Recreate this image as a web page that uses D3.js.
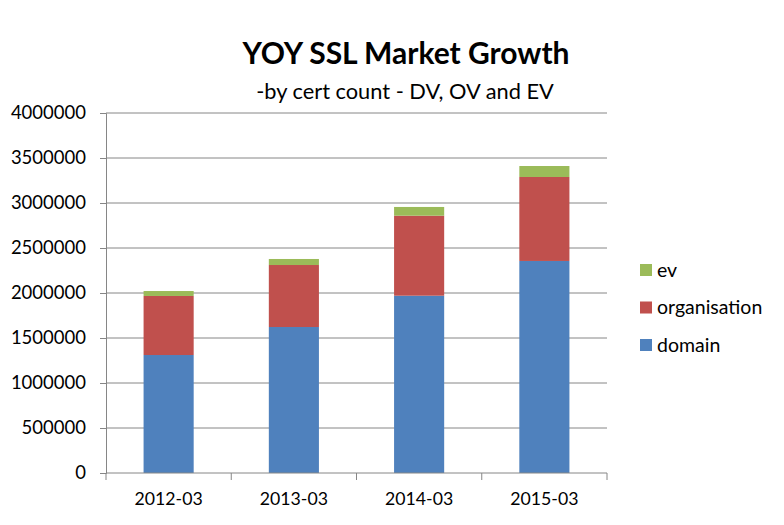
<!DOCTYPE html>
<html>
<head>
<meta charset="utf-8">
<script src="https://cdn.jsdelivr.net/npm/d3@7"></script>
<style>
  body { margin: 0; background: #fff; }
  text { font-family: Lato, "Open Sans", sans-serif; fill: #000; }
</style>
</head>
<body>
<div id="chart"></div>
<script>
var categories = ["2012-03", "2013-03", "2014-03", "2015-03"];
var domainVals = [1311000, 1622000, 1970000, 2356000];
var organisationVals = [656000, 689000, 889000, 933000];
var evVals = [55000, 67000, 97000, 122000];
var seriesNames = ["domain", "organisation", "ev"];
var seriesColors = ["#4F81BD", "#C0504D", "#9BBB59"];
var yTicks = [0, 500000, 1000000, 1500000, 2000000, 2500000, 3000000, 3500000, 4000000];

var width = 784, height = 525;
var margin = {top: 113, left: 106, right: 177, bottom: 52};

var svg = d3.select("#chart").append("svg")
    .attr("width", width)
    .attr("height", height);

var rows = categories.map(function (c, i) {
    return {cat: c, domain: domainVals[i], organisation: organisationVals[i], ev: evVals[i]};
});
var stacked = d3.stack().keys(seriesNames)(rows);

var x = d3.scaleBand()
    .domain(categories)
    .range([margin.left, width - margin.right])
    .paddingInner(0.6)
    .paddingOuter(0.3);

var y = d3.scaleLinear()
    .domain([0, 4000000])
    .range([height - margin.bottom, margin.top]);

// gridlines
svg.append("g")
    .selectAll("line")
    .data(yTicks.slice(1))
    .enter().append("line")
    .attr("x1", margin.left)
    .attr("x2", width - margin.right)
    .attr("y1", function (d) { return y(d); })
    .attr("y2", function (d) { return y(d); })
    .attr("stroke", "#868686")
    .attr("stroke-width", 1);

// bars
svg.append("g")
    .selectAll("g")
    .data(stacked)
    .enter().append("g")
    .attr("fill", function (d, i) { return seriesColors[i]; })
    .selectAll("rect")
    .data(function (d) { return d; })
    .enter().append("rect")
    .attr("x", function (d) { return x(d.data.cat); })
    .attr("y", function (d) { return y(d[1]); })
    .attr("width", x.bandwidth())
    .attr("height", function (d) { return y(d[0]) - y(d[1]); });

// y axis
var yAxis = svg.append("g")
    .attr("transform", "translate(" + margin.left + ",0)")
    .call(d3.axisLeft(y).tickValues(yTicks).tickFormat(d3.format("d")).tickSize(6).tickPadding(14));
yAxis.select(".domain").attr("stroke", "#868686");
yAxis.selectAll(".tick line").attr("stroke", "#868686");
yAxis.selectAll("text").style("font-size", "18.5px").attr("fill", "#000");

// x axis with ticks between categories
var xAxisG = svg.append("g")
    .attr("transform", "translate(0," + y(0) + ")");
xAxisG.append("line")
    .attr("x1", margin.left).attr("x2", width - margin.right)
    .attr("stroke", "#868686");
var step = x.step();
var edges = [margin.left].concat(categories.map(function (c) {
    return x(c) + x.bandwidth() / 2 + step / 2;
}));
xAxisG.selectAll(".xt")
    .data(edges)
    .enter().append("line")
    .attr("x1", function (d) { return d; })
    .attr("x2", function (d) { return d; })
    .attr("y1", 0).attr("y2", 7)
    .attr("stroke", "#868686");
xAxisG.selectAll(".xl")
    .data(categories)
    .enter().append("text")
    .attr("x", function (d) { return x(d) + x.bandwidth() / 2; })
    .attr("y", 32)
    .attr("text-anchor", "middle")
    .style("font-size", "17.7px")
    .text(function (d) { return d; });

// title
svg.append("text")
    .attr("x", 406).attr("y", 64)
    .attr("text-anchor", "middle")
    .style("font-size", "30px")
    .style("font-weight", "bold")
    .text("YOY SSL Market Growth");
svg.append("text")
    .attr("x", 405).attr("y", 99)
    .attr("text-anchor", "middle")
    .style("font-size", "21.8px")
    .text("-by cert count - DV, OV and EV");

// legend
var legendItems = seriesNames.slice().reverse();
var legendColors = seriesColors.slice().reverse();
var legend = svg.append("g")
    .selectAll("g")
    .data(legendItems)
    .enter().append("g")
    .attr("transform", function (d, i) { return "translate(640," + (270 + i * 37.5) + ")"; });
legend.append("rect")
    .attr("x", 0).attr("y", -6)
    .attr("width", 12).attr("height", 12)
    .attr("fill", function (d, i) { return legendColors[i]; });
legend.append("text")
    .attr("x", 17).attr("y", 6.5)
    .style("font-size", "19.5px")
    .text(function (d) { return d; });
</script>
</body>
</html>
